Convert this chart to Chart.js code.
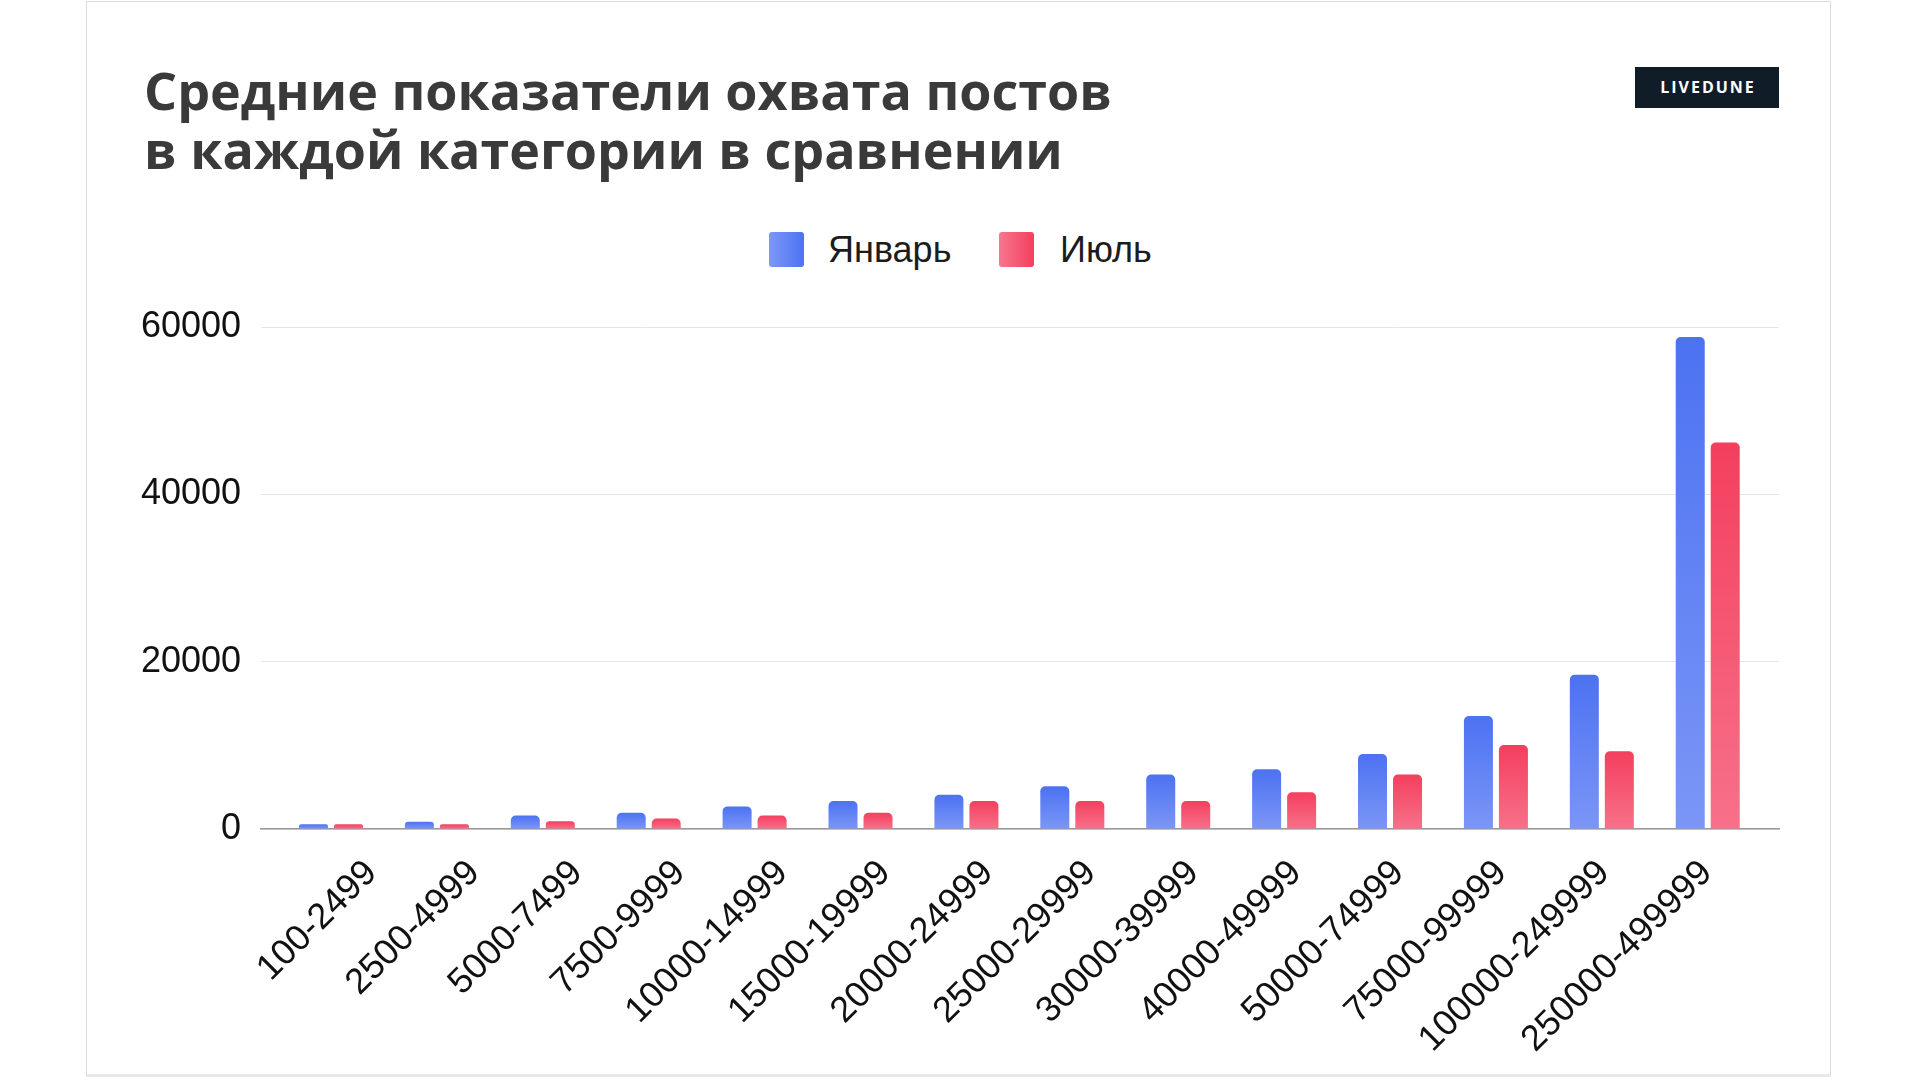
<!DOCTYPE html>
<html><head><meta charset="utf-8">
<script src="https://cdn.jsdelivr.net/npm/chart.js@4.4.0/dist/chart.umd.min.js"></script>
<style>
html,body{margin:0;padding:0;background:#fff;width:1920px;height:1080px;overflow:hidden;}
#card{position:absolute;left:86px;top:1px;width:1745px;height:1076px;border:1px solid #dcdcdc;border-bottom:3px solid #e8e8e8;box-sizing:border-box;background:#fff;}
#title{position:absolute;left:144px;top:60px;font:700 52px/59px 'Open Sans';color:#3a3a3a;white-space:nowrap;}
#logo{position:absolute;left:1635px;top:67px;width:144px;height:41px;background:#111c29;color:#fff;font:700 16px/41px 'Open Sans';letter-spacing:2px;text-align:center;text-indent:2px;}
.lb{position:absolute;top:232px;width:35px;height:35px;border-radius:3px;}
.lt{position:absolute;top:229px;font:36px/41px 'Liberation Sans',Arial,sans-serif;color:#1c1c1c;}
#wrap{position:absolute;left:0;top:0;width:1920px;height:1080px;}
</style></head>
<body>
<div id="card"></div>
<div id="title">Средние показатели охвата постов<br>в каждой категории в сравнении</div>
<div id="logo">LIVEDUNE</div>
<div id="legend"></div>
<div id="wrap"><canvas id="c" width="1920" height="1080"></canvas></div>
<script>
// ---- data ----
const categories = ['100-2499','2500-4999','5000-7499','7500-9999','10000-14999','15000-19999','20000-24999','25000-29999','30000-39999','40000-49999','50000-74999','75000-99999','100000-249999','250000-499999'];
const seriesNames = ['Январь','Июль'];
const january = [570, 880, 1600, 1950, 2700, 3350, 4100, 5100, 6500, 7150, 8950, 13500, 18450, 58800];
const july = [570, 570, 920, 1250, 1600, 1950, 3350, 3350, 3350, 4400, 6500, 10050, 9300, 46200];
const yTickValues = [0, 20000, 40000, 60000];

// ---- styles ----
const BLUE = ['#4c72f2', '#7b96f6'];
const RED = ['#f43f5e', '#f77189'];
const FONT = "'Liberation Sans', Arial, sans-serif";

// legend (HTML)
const legendEl = document.getElementById('legend');
const legendPos = [[769, 828], [999, 1060]];
const legendGrad = [['#7d98f6', '#4c72f2'], ['#f7778e', '#f43f5e']];
seriesNames.forEach((n, i) => {
  const b = document.createElement('div'); b.className = 'lb';
  b.style.left = legendPos[i][0] + 'px';
  b.style.background = 'linear-gradient(90deg,' + legendGrad[i][0] + ',' + legendGrad[i][1] + ')';
  const t = document.createElement('div'); t.className = 'lt';
  t.style.left = legendPos[i][1] + 'px'; t.textContent = n;
  legendEl.appendChild(b); legendEl.appendChild(t);
});

function barGradient(c, cols) {
  if (c.type !== 'data') return cols[0];
  const chart = c.chart;
  if (!chart.chartArea) return cols[0];
  const y = chart.scales.y;
  const v = c.dataset.data[c.dataIndex];
  const y0 = y.getPixelForValue(0), y1 = y.getPixelForValue(v);
  if (!isFinite(y0) || !isFinite(y1) || y0 === y1) return cols[0];
  const g = chart.ctx.createLinearGradient(0, y1, 0, y0);
  g.addColorStop(0, cols[0]); g.addColorStop(1, cols[1]);
  return g;
}

const CAT_START = -0.661, CAT_RANGE = 14.334;
const LAB_START = -1.075, LAB_RANGE = 14.78;

const chart = new Chart(document.getElementById('c'), {
  type: 'bar',
  data: {
    labels: categories,
    datasets: [
      { label: seriesNames[0], data: january, backgroundColor: c => barGradient(c, BLUE), borderRadius: 5, borderSkipped: 'start', categoryPercentage: 0.661, barPercentage: 0.829, xAxisID: 'x' },
      { label: seriesNames[1], data: july, backgroundColor: c => barGradient(c, RED), borderRadius: 5, borderSkipped: 'start', categoryPercentage: 0.661, barPercentage: 0.829, xAxisID: 'x' }
    ]
  },
  options: {
    responsive: false, animation: false, devicePixelRatio: 1,
    layout: { padding: { left: 141, right: 141, top: 327, bottom: 0 } },
    plugins: { legend: { display: false }, tooltip: { enabled: false } },
    scales: {
      x: {
        type: 'category', position: 'bottom', weight: 0,
        grid: { display: false, drawTicks: false },
        border: { display: true, color: '#999999', width: 1.5 },
        ticks: { display: false },
        afterBuildTicks: s => { s._startValue = CAT_START; s._valueRange = CAT_RANGE; },
        afterFit: s => { s.height = 0; }
      },
      x2: {
        type: 'category', labels: categories, position: 'bottom', weight: 1,
        grid: { display: false, drawTicks: false },
        border: { display: false },
        ticks: { minRotation: 45, maxRotation: 45, autoSkip: false, padding: 23, color: '#111', font: { family: FONT, size: 36 } },
        afterBuildTicks: s => { s._startValue = LAB_START; s._valueRange = LAB_RANGE; },
        afterFit: s => { s.height = 251; }
      },
      y: {
        type: 'linear', min: 0, max: 60000,
        grid: { color: '#e6e6e6', lineWidth: 1, drawTicks: false },
        border: { display: false },
        ticks: { padding: 20, color: '#111', font: { family: FONT, size: 36 }, callback: v => String(v) },
        afterBuildTicks: s => { s.ticks = yTickValues.map(v => ({ value: v })); },
        afterFit: s => { s.width = 120; }
      }
    }
  }
});
</script>
</body></html>
